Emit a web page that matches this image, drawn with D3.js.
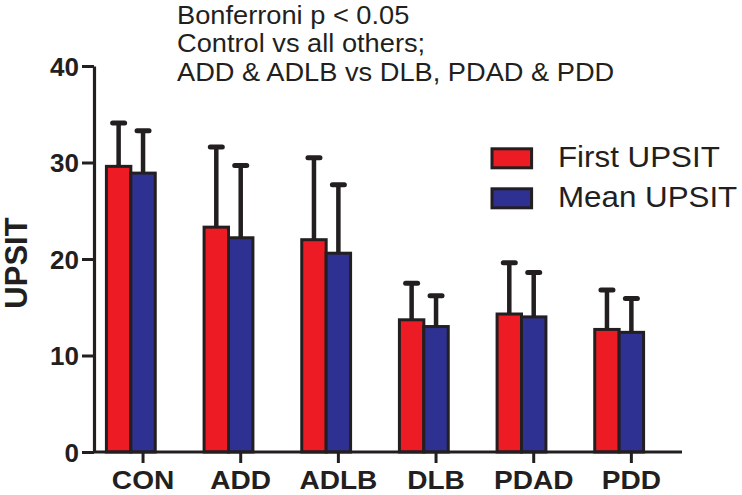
<!DOCTYPE html>
<html>
<head>
<meta charset="utf-8">
<script src="https://cdn.jsdelivr.net/npm/d3@7"></script>
<style>
  html, body { margin: 0; padding: 0; background: #fff; }
  svg { display: block; font-family: "Liberation Sans", Arial, Helvetica, sans-serif; }
</style>
</head>
<body>
<svg id="chart" width="742" height="495"></svg>
<script>
// ---- data ----
const categories = ["CON", "ADD", "ADLB", "DLB", "PDAD", "PDD"];
const seriesNames = ["First UPSIT", "Mean UPSIT"];
const firstMean = [29.6, 23.3, 22.0, 13.7, 14.3, 12.7];
const firstSD   = [4.5, 8.3, 8.5, 3.8, 5.3, 4.1];
const meanMean  = [28.9, 22.2, 20.6, 13.0, 14.0, 12.4];
const meanSD    = [4.4, 7.5, 7.1, 3.2, 4.6, 3.5];
const yTicks = [0, 10, 20, 30, 40];
const titleLines = ["Bonferroni p < 0.05", "Control vs all others;", "ADD & ADLB vs DLB, PDAD & PDD"];
const yLabel = "UPSIT";

const colors = ["#ED1C24", "#2E3192"];
const ink = "#231f20";

const svg = d3.select("#chart");

// ---- scales ----
const y = d3.scaleLinear().domain([0, 40]).range([452, 66]);
const x = d3.scaleBand().domain(categories).range([82, 668]).paddingInner(0.5).paddingOuter(0.25);
const xs = d3.scaleBand().domain(seriesNames).range([0, x.bandwidth()]);
// ticks sit at the centre of the second bar of each group
const xTick = x.copy().range([82 + xs.bandwidth() / 2, 668 + xs.bandwidth() / 2]);

const rows = categories.map((c, i) => ({
  cat: c,
  vals: [
    { s: seriesNames[0], m: firstMean[i], sd: firstSD[i], col: colors[0] },
    { s: seriesNames[1], m: meanMean[i], sd: meanSD[i], col: colors[1] }
  ]
}));

// ---- error bars ----
const groups = svg.append("g").selectAll("g").data(rows).join("g")
  .attr("transform", d => `translate(${x(d.cat)},0)`);

const eb = groups.selectAll("g.eb").data(d => d.vals).join("g").attr("class", "eb");
eb.append("line")
  .attr("x1", d => xs(d.s) + xs.bandwidth() / 2)
  .attr("x2", d => xs(d.s) + xs.bandwidth() / 2)
  .attr("y1", d => y(d.m))
  .attr("y2", d => y(d.m + d.sd))
  .attr("stroke", ink).attr("stroke-width", 4.5);
eb.append("line")
  .attr("x1", d => xs(d.s) + xs.bandwidth() / 2 - 6)
  .attr("x2", d => xs(d.s) + xs.bandwidth() / 2 + 6)
  .attr("y1", d => y(d.m + d.sd))
  .attr("y2", d => y(d.m + d.sd))
  .attr("stroke", ink).attr("stroke-width", 5).attr("stroke-linecap", "round");

// ---- bars ----
groups.selectAll("rect").data(d => d.vals).join("rect")
  .attr("x", d => xs(d.s))
  .attr("width", xs.bandwidth())
  .attr("y", d => y(d.m))
  .attr("height", d => y(0) - y(d.m))
  .attr("fill", d => d.col)
  .attr("stroke", ink).attr("stroke-width", 3);

// ---- y axis ----
const yAxis = svg.append("g").attr("transform", "translate(94,0)")
  .call(d3.axisLeft(y).tickValues(yTicks).tickSize(12).tickSizeOuter(0).tickPadding(3));
yAxis.select(".domain").attr("stroke", ink).attr("stroke-width", 3.2);
yAxis.selectAll(".tick line").attr("stroke", ink).attr("stroke-width", 3);
yAxis.selectAll(".tick text").attr("fill", ink)
  .style("font-size", "26px").style("font-weight", "bold")
  .style("font-family", "'Liberation Sans', Arial, sans-serif")
  .attr("dy", "0.36em");

// ---- x axis ----
const xAxis = svg.append("g").attr("transform", "translate(0,452)")
  .call(d3.axisBottom(xTick).tickSize(11).tickSizeOuter(0).tickPadding(8));
xAxis.select(".domain").remove();
xAxis.selectAll(".tick line").attr("stroke", ink).attr("stroke-width", 3);
xAxis.selectAll(".tick text").attr("fill", ink)
  .attr("transform", "scale(1.08,1)")
  .style("font-size", "26px").style("font-weight", "bold")
  .style("font-family", "'Liberation Sans', Arial, sans-serif");
svg.append("line").attr("x1", 93).attr("x2", 682).attr("y1", y(0)).attr("y2", y(0))
  .attr("stroke", ink).attr("stroke-width", 3.2);

// ---- y label ----
svg.append("text")
  .attr("transform", `translate(27,${(y(0) + y(40)) / 2 + 4}) rotate(-90)`)
  .attr("text-anchor", "middle")
  .attr("fill", ink)
  .style("font-size", "31px").style("font-weight", "bold")
  .text(yLabel);

// ---- title annotation ----
svg.append("g").attr("transform", "translate(177,0) scale(1.09,1)")
  .selectAll("text").data(titleLines).join("text")
  .attr("x", 0)
  .attr("y", (d, i) => 24 + i * 28.5)
  .attr("fill", ink)
  .style("font-size", "25px")
  .text(d => d);

// ---- legend ----
const legend = svg.append("g").selectAll("g").data(seriesNames).join("g")
  .attr("transform", (d, i) => `translate(492,${148.8 + i * 40})`);
legend.append("rect")
  .attr("width", 39.6).attr("height", 19)
  .attr("fill", (d, i) => colors[i])
  .attr("stroke", ink).attr("stroke-width", 3);
legend.append("text")
  .attr("transform", "translate(66,18) scale(1.08,1)")
  .attr("fill", ink)
  .style("font-size", "29px")
  .text(d => d);
</script>
</body>
</html>
